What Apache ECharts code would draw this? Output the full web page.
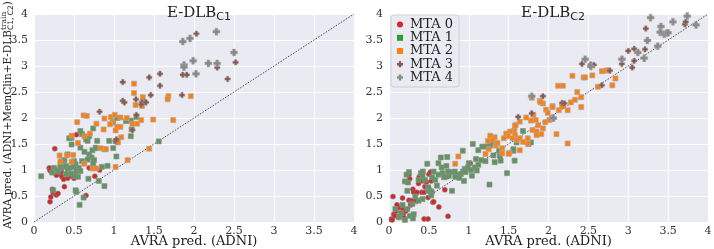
<!DOCTYPE html>
<html><head><meta charset="utf-8">
<script src="https://cdn.jsdelivr.net/npm/echarts@6/dist/echarts.min.js"></script>
<style>html,body{margin:0;padding:0;background:#fff}#c{width:714px;height:249px}</style>
</head><body><div id="c"></div>
<script>
// ---------- DATA ----------
const seriesNames = ['MTA 0','MTA 1','MTA 2','MTA 3','MTA 4'];
const axisTicks = [0,0.5,1,1.5,2,2.5,3,3.5,4];
const titleMain = 'E-DLB';
const titleSubs = ['C1','C2'];
const xAxisLabel = 'AVRA pred. (ADNI)';
const yLabelMain = 'AVRA pred. (ADNI+MemClin+E-DLB';
const yLabelSup = 'train';
const yLabelSub = 'C1, C2';
const identityLine = [[0,0],[4,4]];

// Left panel (E-DLB C1)
const L_MTA0 = [[0.26,1.41],[0.19,1.04],[0.20,0.99],[0.22,0.96],[0.34,0.96],[0.35,0.87],[0.30,0.92],[0.42,0.84],[0.37,0.82],[0.38,0.68],[0.23,0.63],[0.24,0.56],[0.28,0.52],[0.30,0.55],[0.21,0.48],[0.20,0.39],[0.65,0.51],[0.69,1.04],[0.76,0.88],[0.82,1.00],[0.53,1.68],[0.50,0.84],[0.46,0.88],[0.74,1.05],[0.34,1.00],[0.28,0.90]];
const L_MTA1 = [[0.09,0.88],[0.23,0.95],[0.25,1.04],[0.28,1.00],[0.33,1.03],[0.37,1.06],[0.40,1.08],[0.42,1.01],[0.45,1.04],[0.38,1.19],[0.35,1.17],[0.47,1.49],[0.47,1.62],[0.44,1.61],[0.58,1.75],[0.60,1.69],[0.69,1.65],[0.74,1.80],[0.79,1.56],[0.67,1.56],[0.65,1.59],[0.58,1.43],[0.63,1.35],[0.69,1.30],[0.73,1.38],[0.77,1.43],[0.88,1.40],[0.94,1.56],[0.99,1.42],[1.02,1.55],[1.03,1.26],[1.15,1.94],[1.21,1.95],[1.21,1.65],[1.22,1.78],[1.28,2.02],[0.50,1.17],[0.52,1.11],[0.49,1.06],[0.53,1.01],[0.56,1.04],[0.58,0.98],[0.52,0.93],[0.55,0.87],[0.50,0.88],[0.46,0.93],[0.68,0.83],[0.72,1.24],[0.75,1.19],[0.74,1.12],[0.85,1.06],[0.92,1.08],[0.81,0.79],[0.88,0.69],[0.52,0.61],[0.53,0.58],[0.62,0.47],[0.57,0.33],[0.24,0.61],[0.42,1.30],[0.60,1.17],[0.67,1.20],[0.78,1.42],[1.56,1.55],[0.33,1.10],[0.30,0.97],[0.40,0.92],[1.04,2.00],[0.99,1.93]];
const L_MTA2 = [[0.62,2.05],[0.66,2.04],[0.54,1.92],[0.78,1.89],[0.88,1.99],[0.96,2.02],[1.01,2.06],[1.08,2.01],[1.16,2.00],[0.98,1.91],[0.95,1.88],[1.04,1.83],[1.02,1.76],[1.08,1.83],[1.23,1.89],[1.29,1.89],[1.34,1.96],[1.25,2.66],[1.25,2.48],[1.36,2.40],[1.27,2.25],[1.35,2.23],[1.49,1.97],[1.68,2.42],[1.67,2.36],[1.74,1.96],[1.96,2.42],[0.87,1.78],[0.70,1.70],[0.63,1.65],[0.55,1.52],[0.47,1.66],[0.83,1.42],[0.90,1.40],[1.05,1.53],[1.09,1.63],[0.49,1.29],[0.41,1.28],[0.32,1.28],[0.33,1.16],[0.47,1.16],[0.63,1.12],[0.73,1.03],[0.78,1.03],[1.02,1.06],[1.17,1.19],[1.44,1.41]];
const L_MTA3 = [[2.03,3.62],[1.575,2.85],[1.44,2.78],[1.86,2.83],[1.91,2.83],[1.11,2.69],[1.575,2.62],[1.46,2.44],[1.85,2.44],[1.11,2.33],[1.275,2.36],[1.39,2.31],[1.35,2.31],[0.82,2.12],[1.28,2.06],[2.29,2.97],[2.52,3.07],[2.42,2.75],[1.13,2.30],[1.40,2.30],[1.02,1.56],[1.23,1.77],[1.03,1.59],[1.34,2.26]];
const L_MTA4 = [[2.28,3.66],[1.86,3.47],[1.95,3.53],[2.50,3.26],[1.875,3.02],[1.875,2.98],[1.99,3.10],[2.18,3.05],[2.29,3.05],[2.025,2.85]];

// Right panel (E-DLB C2)
const R_MTA0 = [[0.05,0.49],[0.06,0.15],[0.03,0.06],[0.09,0.21],[0.17,0.25],[0.175,0.15],[0.12,0.10],[0.19,0.08],[0.21,0.21],[0.25,0.42],[0.26,0.83],[0.25,0.91],[0.27,0.33],[0.28,0.41],[0.30,0.63],[0.31,0.57],[0.33,0.41],[0.35,0.57],[0.37,0.74],[0.38,0.87],[0.41,0.57],[0.42,0.79],[0.44,0.57],[0.45,0.68],[0.47,0.77],[0.49,0.47],[0.50,0.92],[0.52,0.96],[0.53,0.79],[0.54,0.57],[0.55,0.38],[0.50,0.65],[0.44,0.06],[0.49,0.06],[0.625,0.29],[0.74,0.11],[0.70,0.62],[0.73,0.87],[1.02,1.13],[0.125,0.28],[0.075,0.12],[0.17,0.46],[0.10,0.33],[0.04,0.04],[0.56,0.39]];
const R_MTA1 = [[1.05,1.50],[0.925,1.37],[0.65,1.24],[0.48,1.12],[0.25,0.96],[0.22,0.91],[0.20,0.78],[0.24,0.76],[0.40,0.94],[0.425,0.97],[0.45,0.81],[0.37,0.81],[0.66,1.05],[0.72,1.08],[0.67,0.94],[0.69,0.86],[0.74,0.97],[0.75,0.89],[0.79,0.96],[0.825,0.97],[0.85,0.91],[0.90,0.92],[0.925,0.97],[0.95,1.02],[0.99,1.05],[1.03,1.00],[1.075,1.05],[1.12,1.10],[1.16,1.19],[1.21,1.17],[1.09,1.21],[1.12,1.38],[1.17,1.45],[1.22,1.45],[1.27,1.47],[1.29,1.53],[1.31,1.28],[1.325,1.15],[1.40,1.18],[1.38,1.37],[1.48,0.94],[1.575,1.18],[1.56,1.37],[1.60,1.53],[1.26,0.72],[0.49,0.60],[0.53,0.59],[0.42,0.44],[0.37,0.41],[0.29,0.35],[0.23,0.25],[0.26,0.12],[0.31,0.15],[0.20,0.04],[0.125,0.09],[0.08,0.25],[0.17,0.33],[0.53,0.51],[0.60,0.70],[0.49,0.67],[0.79,0.60],[0.58,0.81],[0.54,0.86],[0.62,0.91],[0.56,0.97],[0.42,0.89],[0.33,0.49],[0.23,0.60],[0.30,0.07],[0.15,0.17],[1.75,1.50],[1.78,1.53],[1.00,1.13],[0.96,0.96],[0.83,0.87],[0.88,0.85],[0.94,0.79],[1.04,0.89],[1.10,0.99],[1.56,1.40],[1.68,1.75],[1.39,1.27],[0.62,1.13],[0.73,1.25]];
const R_MTA2 = [[0.87,1.26],[0.83,1.12],[1.21,1.31],[1.25,1.40],[1.24,1.56],[1.27,1.66],[1.325,1.63],[1.34,1.47],[1.30,1.58],[1.36,1.52],[2.30,2.81],[2.44,2.78],[2.46,2.78],[2.55,2.82],[2.67,2.90],[2.80,2.63],[2.62,2.60],[2.36,2.50],[2.41,2.40],[2.33,2.35],[2.12,2.62],[2.18,2.62],[1.79,2.39],[1.89,2.33],[1.93,2.28],[2.05,2.23],[2.18,2.23],[2.24,2.15],[2.13,2.15],[1.97,2.16],[1.99,2.10],[1.81,2.06],[1.84,1.96],[1.78,1.95],[1.72,2.01],[1.64,1.93],[1.59,1.87],[1.57,1.76],[1.52,1.74],[1.47,1.70],[1.49,1.65],[1.44,1.61],[1.58,1.67],[1.55,1.61],[1.60,1.58],[1.64,1.61],[1.68,1.54],[1.74,1.61],[1.80,1.77],[1.85,1.74],[1.91,1.69],[1.85,1.67],[1.93,1.80],[2.10,1.69],[2.24,1.51],[1.74,1.51],[1.64,1.38],[1.51,1.33],[1.42,1.42],[1.87,1.86],[2.01,1.96],[1.58,1.85],[2.05,2.21],[2.17,2.22],[2.28,2.30],[2.41,2.21],[1.90,2.30],[1.42,1.32],[1.50,1.31],[1.96,1.92],[2.04,2.01],[2.72,2.91],[2.75,2.92],[2.84,2.76]];
const R_MTA3 = [[1.93,2.42],[1.79,2.09],[2.06,1.99],[2.17,2.29],[2.42,3.04],[2.53,3.03],[2.57,3.02],[2.67,2.63],[2.77,2.91],[3.00,3.29],[3.075,3.33],[2.92,3.04],[3.05,2.97],[3.075,3.10],[3.22,3.72],[3.21,3.32],[3.71,3.80],[3.72,3.85],[2.20,2.28],[1.62,2.02]];
const R_MTA4 = [[3.28,3.93],[3.74,3.96],[3.85,3.79],[3.56,3.85],[3.41,3.76],[3.40,3.65],[3.45,3.61],[3.48,3.63],[3.50,3.64],[3.24,3.49],[3.37,3.38],[3.20,3.15],[3.12,3.26],[2.92,3.13],[2.46,3.13],[2.53,2.99],[1.79,2.42],[2.06,2.00]];

const leftData = [L_MTA0, L_MTA1, L_MTA2, L_MTA3, L_MTA4];
const rightData = [R_MTA0, R_MTA1, R_MTA2, R_MTA3, R_MTA4];

// ---------- STYLE ----------
const SERIF = 'DejaVu Serif';
const PLUS = 'path://M3,0h4v3h3v4h-3v3h-4v-3h-3v-4h3z';
const markerStyles = [
  {symbol:'circle', size:5, color:'#d62728', border:'rgba(130,130,130,0.75)'},
  {symbol:'rect', size:5, color:'#5f965f', border:'rgba(140,140,140,0.8)'},
  {symbol:'rect', size:5, color:'#ff7f0e', border:'rgba(170,170,170,0.8)'},
  {symbol:PLUS, size:5.5, color:'#8c564b', border:'rgba(150,150,150,0.6)'},
  {symbol:PLUS, size:7, color:'#8a8a8a', border:'rgba(170,170,170,0.6)'}
];
const legendColors = ['#d62728','#2ca02c','#ff7f0e','#8c564b','#8a8a8a'];

const chart = echarts.init(document.getElementById('c'), null, {renderer:'canvas'});

function mkAxis(gridIndex, isY, name) {
  const a = {
    type:'value', gridIndex, min:0, max:4, interval:0.5,
    axisLine:{show:false}, axisTick:{show:false},
    splitLine:{show:true, lineStyle:{color:'#ffffff', width:1}},
    axisLabel:{fontFamily:SERIF, fontSize:11, color:'#333', margin:isY?6:4,
      formatter:v => axisTicks.includes(v) ? String(v) : ''}
  };
  if (name) {
    a.name = name; a.nameLocation = 'middle'; a.nameGap = 13; a.nameMoveOverlap = false;
    a.nameTextStyle = {fontFamily:SERIF, fontSize:13, color:'#222'};
  }
  return a;
}

const series = [];
[leftData, rightData].forEach((panel, gi) => {
  panel.forEach((pts, k) => {
    const m = markerStyles[k];
    series.push({
      type:'scatter', name:seriesNames[k], xAxisIndex:gi, yAxisIndex:gi,
      data:pts, symbol:m.symbol, symbolSize:m.size,
      itemStyle:{color:m.color, borderColor:m.border, borderWidth:0.8, opacity:1},
      emphasis:{disabled:true}, z:3
    });
  });
  series.push({
    type:'line', xAxisIndex:gi, yAxisIndex:gi, data:identityLine,
    symbol:'none', silent:true, z:2,
    lineStyle:{color:'#333', width:0.9, type:[1.5,1.5]}
  });
});

// measure text for y-axis label composition
const ctx = document.createElement('canvas').getContext('2d');
function tw(t, size, fam){ ctx.font = size + 'px "' + fam + '"'; return ctx.measureText(t).width; }
const yfs = 10.5, ysfs = 7.5;
const wMain = tw(yLabelMain, yfs, SERIF);
const wSup = tw(yLabelSup, ysfs, SERIF);
const wSub = tw(yLabelSub, ysfs, 'DejaVu Sans');
const wClose = tw(')', yfs, SERIF);
const total = wMain + Math.max(wSup, wSub) + wClose;
const x0 = -total/2;

chart.setOption({
  animation:false,
  title:[0,1].map(i => ({
    text:'{a|' + titleMain + '}{b|' + titleSubs[i] + '}',
    left: i===0 ? 194 : 548, top:-2, textAlign:'center',
    textStyle:{fontWeight:'normal', rich:{
      a:{fontFamily:SERIF, fontSize:15, fontWeight:'normal', color:'#222', lineHeight:20, verticalAlign:'middle'},
      b:{fontFamily:'DejaVu Sans', fontSize:11, fontWeight:'normal', color:'#222', lineHeight:20, padding:[9,0,0,0]}
    }}
  })),
  grid:[
    {left:34, top:14, width:320, height:208, show:true, backgroundColor:'#EAEAF2', borderWidth:0, outerBoundsMode:'none', containLabel:false},
    {left:389, top:14, width:319, height:208, show:true, backgroundColor:'#EAEAF2', borderWidth:0, outerBoundsMode:'none', containLabel:false}
  ],
  xAxis:[mkAxis(0,false,xAxisLabel), mkAxis(1,false,xAxisLabel)],
  yAxis:[mkAxis(0,true), mkAxis(1,true)],
  legend:{
    data:seriesNames.map((n,k)=>({name:n, itemStyle:{color:legendColors[k], borderWidth:0}})),
    orient:'vertical', left:391, top:15, itemWidth:6, itemHeight:6, itemGap:0,
    padding:[3,6,3,6], backgroundColor:'rgba(234,234,242,0.85)', borderColor:'#cfcfd6',
    borderWidth:1, borderRadius:3, selectedMode:false,
    textStyle:{fontFamily:SERIF, fontSize:13, color:'#222', lineHeight:13.2, padding:[0,0,0,2]}
  },
  graphic:[{
    type:'group', x:8, y:115, rotation:Math.PI/2,
    children:[
      {type:'text', x:x0, y:0, style:{text:yLabelMain, font:yfs+'px "'+SERIF+'"', fill:'#222', textVerticalAlign:'middle', textAlign:'left'}},
      {type:'text', x:x0+wMain, y:-4, style:{text:yLabelSup, font:ysfs+'px "'+SERIF+'"', fill:'#222', textVerticalAlign:'middle', textAlign:'left'}},
      {type:'text', x:x0+wMain, y:3.5, style:{text:yLabelSub, font:ysfs+'px "DejaVu Sans"', fill:'#222', textVerticalAlign:'middle', textAlign:'left'}},
      {type:'text', x:x0+wMain+Math.max(wSup,wSub), y:0, style:{text:')', font:yfs+'px "'+SERIF+'"', fill:'#222', textVerticalAlign:'middle', textAlign:'left'}}
    ]
  }],
  series
});
</script></body></html>
